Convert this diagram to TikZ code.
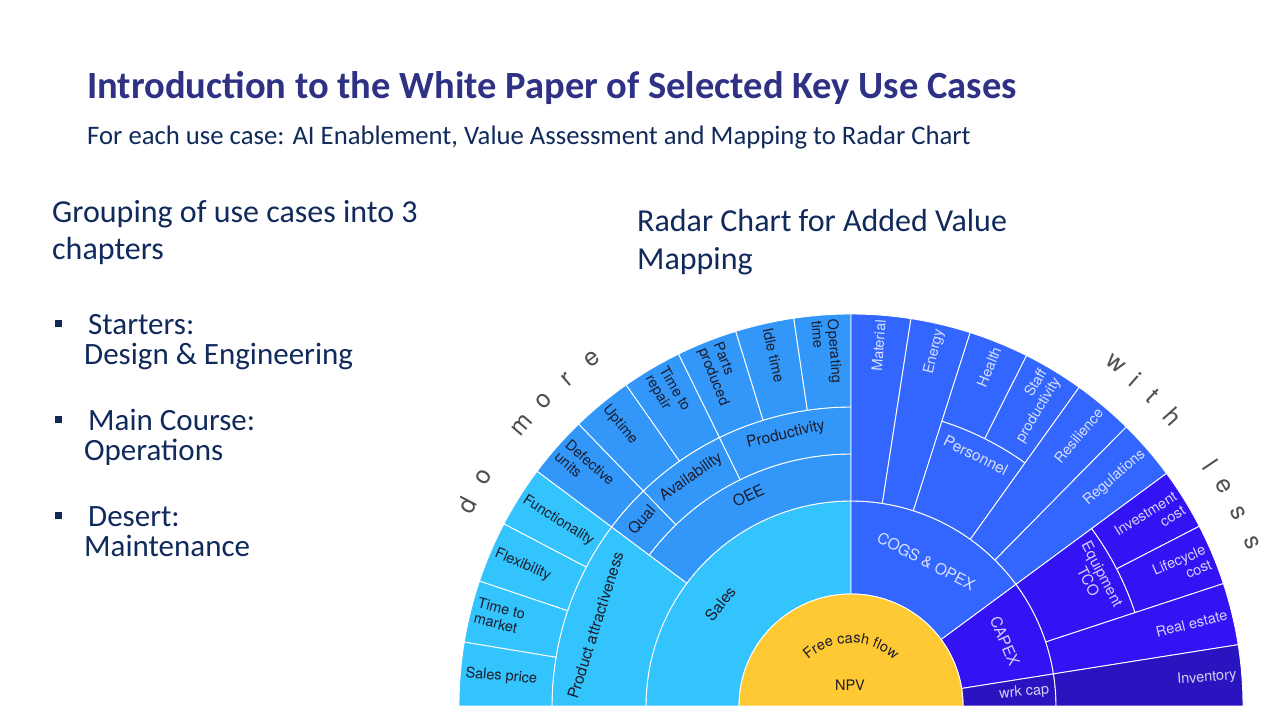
\documentclass[tikz,border=0pt]{standalone}
\usepackage{fontspec}
\setmainfont{Carlito}
\newfontfamily\heros{TeX Gyre Heros}
\usetikzlibrary{decorations.text}
\definecolor{titlecol}{HTML}{2E3184}
\definecolor{navy}{HTML}{112A5C}
\definecolor{cyanS}{HTML}{33C3FD}
\definecolor{oeeC}{HTML}{3397F9}
\definecolor{cogsC}{HTML}{3366FE}
\definecolor{capexC}{HTML}{3312F4}
\definecolor{wrkC}{HTML}{2A14C0}
\definecolor{npvC}{HTML}{FFC933}
\definecolor{darktxt}{HTML}{1C1C2A}
\definecolor{arcgray}{HTML}{505050}
\newcommand\sbseg[5]{\filldraw[fill=#1, draw=white, line width=0.9pt] (#2:#4) arc[start angle=#2, end angle=#3, radius=#4] -- (#3:#5) arc[start angle=#3, end angle=#2, radius=#5] -- cycle;}
\tikzset{
  leafL/.style={font=\heros\fontsize{14.5}{16}\selectfont, text=darktxt, inner sep=0pt, anchor=west, align=left},
  leafR/.style={font=\heros\fontsize{14.5}{16}\selectfont, text=white, text opacity=0.8, inner sep=0pt, anchor=east, align=right},
  ringD/.style={font=\heros\fontsize{15.5}{17}\selectfont, text=darktxt, inner sep=0pt, align=center},
  ringL/.style={font=\heros\fontsize{15.5}{17}\selectfont, text=white, text opacity=0.8, inner sep=0pt, align=center},
  arcletter/.style={font=\heros\fontsize{25}{25}\selectfont, text=arcgray, inner sep=0pt},
  slide/.style={inner sep=0pt, anchor=base west, text=navy}
}
\newcommand\lleaf[4]{\node[leafL, rotate=#1-180] (#4) at (#1:387) {#2\strut};}
\newcommand\rleaf[4]{\node[leafR, rotate=#1] (#4) at (#1:387) {#2};}
\begin{document}
\begin{tikzpicture}[x=1pt,y=1pt]
\useasboundingbox (0,0) rectangle (1280,720);
\fill[white] (0,0) rectangle (1280,720);
% title
\node[slide, text=titlecol, font=\fontsize{38.5}{44}\selectfont\bfseries] (title) at (87,621) {Introduction to the White Paper of Selected Key Use Cases};
\node[slide, font=\fontsize{26.7}{32}\selectfont] (subtitle) at (87,575) {For each use case: AI Enablement, Value Assessment and Mapping to Radar Chart};
% left block
\node[slide, font=\fontsize{32}{38}\selectfont] (g1) at (52,497) {Grouping of use cases into 3};
\node[slide, font=\fontsize{32}{38}\selectfont] (g2) at (52,460) {chapters};
\node[slide, font=\fontsize{31}{36}\selectfont] (s1) at (88,385) {Starters:};
\node[slide, font=\fontsize{31}{36}\selectfont] (s2) at (84,355) {Design \& Engineering};
\node[slide, font=\fontsize{31}{36}\selectfont] (m1) at (88,289) {Main Course:};
\node[slide, font=\fontsize{31}{36}\selectfont] (m2) at (84,259) {Operations};
\node[slide, font=\fontsize{31}{36}\selectfont] (d1) at (88,193) {Desert:};
\node[slide, font=\fontsize{31}{36}\selectfont] (d2) at (84,163) {Maintenance};
\fill[navy] (54.5,392.5) rectangle +(7,7);
\fill[navy] (54.5,296.5) rectangle +(7,7);
\fill[navy] (54.5,200.5) rectangle +(7,7);
% radar heading
\node[slide, font=\fontsize{32}{38}\selectfont] (r1) at (637,488) {Radar Chart for Added Value};
\node[slide, font=\fontsize{32}{38}\selectfont] (r2) at (637,450) {Mapping};
% sunburst
\begin{scope}[shift={(851,14)}]
\sbseg{cyanS}{90}{180}{112}{205}
\sbseg{cyanS}{143.2}{180}{205}{299}
\sbseg{cyanS}{170.6}{180}{299}{392}
\sbseg{cyanS}{161.4}{170.6}{299}{392}
\sbseg{cyanS}{152.3}{161.4}{299}{392}
\sbseg{cyanS}{143.2}{152.3}{299}{392}
\sbseg{oeeC}{90}{143.2}{205}{252}
\sbseg{oeeC}{134}{143.2}{252}{299}
\sbseg{oeeC}{116.1}{134}{252}{299}
\sbseg{oeeC}{90}{116.1}{252}{299}
\sbseg{oeeC}{134}{143.2}{299}{392}
\sbseg{oeeC}{125}{134}{299}{392}
\sbseg{oeeC}{116.1}{125}{299}{392}
\sbseg{oeeC}{107.1}{116.1}{299}{392}
\sbseg{oeeC}{98.4}{107.1}{299}{392}
\sbseg{oeeC}{90}{98.4}{299}{392}
\sbseg{cogsC}{36.4}{90}{112}{205}
\sbseg{cogsC}{81.2}{90}{205}{392}
\sbseg{cogsC}{72.3}{81.2}{205}{392}
\sbseg{cogsC}{54.4}{72.3}{205}{299}
\sbseg{cogsC}{63.4}{72.3}{299}{392}
\sbseg{cogsC}{54.4}{63.4}{299}{392}
\sbseg{cogsC}{45.4}{54.4}{205}{392}
\sbseg{cogsC}{36.4}{45.4}{205}{392}
\sbseg{capexC}{9}{36.4}{112}{205}
\sbseg{capexC}{18.2}{36.4}{205}{299}
\sbseg{capexC}{27.3}{36.4}{299}{392}
\sbseg{capexC}{18.2}{27.3}{299}{392}
\sbseg{capexC}{9}{18.2}{205}{392}
\sbseg{wrkC}{0}{9}{112}{205}
\sbseg{wrkC}{0}{9}{205}{392}
\filldraw[fill=npvC, draw=white, line width=0.9pt] (0:112) arc[start angle=0, end angle=180, radius=112] -- cycle;
% leaf labels left
\lleaf{175.3}{Sales price}{}{salesprice}
\lleaf{166}{Time to\\market}{}{ttm}
\lleaf{156.85}{Flexibility}{}{flex}
\lleaf{147.75}{Functionality}{}{func}
\lleaf{138.6}{Defective\\units}{}{defect}
\lleaf{129.5}{Uptime}{}{uptime}
\lleaf{120.55}{Time to\\repair}{}{ttr}
\lleaf{111.6}{Parts\\produced}{}{parts}
\lleaf{102.75}{Idle time}{}{idle}
\lleaf{94.2}{Operating\\time}{}{optime}
% leaf labels right
\rleaf{85.6}{Material}{}{material}
\rleaf{76.75}{Energy}{}{energy}
\rleaf{67.85}{Health}{}{health}
\rleaf{58.9}{Staff\\productivity}{}{staff}
\rleaf{49.9}{Resilience}{}{resil}
\rleaf{40.9}{Regulations}{}{regul}
\rleaf{31.85}{Investment\\cost}{}{invest}
\rleaf{22.75}{Lifecycle\\cost}{}{life}
\rleaf{13.6}{Real estate}{}{realest}
\rleaf{4.5}{Inventory}{}{invent}
% inner labels
\node[ringD, rotate=52] (sales) at (142:166) {Sales};
\node[ringD, rotate=72.5] (prodattr) at (162.5:268) {Product attractiveness};
\node[ringD, rotate=26] (oee) at (116:234) {OEE};
\node[ringD, rotate=48.5] (qual) at (138.4:280) {Qual};
\node[ringD, rotate=35] (avail) at (124.9:279) {Availability};
\node[ringD, rotate=13.5] (product) at (103.5:279) {Productivity};
\node[ringL, rotate=-27.5] (cogs) at (62.5:163) {COGS \& OPEX};
\node[ringL, rotate=-26.5] (personnel) at (63.5:280) {Personnel};
\node[ringL, rotate=-62.3, font=\heros\fontsize{15}{16}\selectfont] (equip) at (27.7:276) {Equipment\\TCO};
\node[ringL, rotate=-67.1] (capex) at (22.9:167) {CAPEX};
\node[leafR, rotate=4.5] (wrkcap) at (4.5:199) {wrk cap};
% center
\path[decorate, decoration={text along path, text={|\heros\fontsize{14.5}{16}\selectfont\color{darktxt}|Free cash flow}, text align=center}] (140:63) arc[start angle=140, end angle=40, radius=63];
\node[font=\heros\fontsize{14.5}{16}\selectfont, text=darktxt, inner sep=0pt] (npv) at (-1,21) {NPV};
% do more / with less
\foreach \a/\l [count=\i] in {152.4/d,148.1/o,139.5/m,135.2/o,131/r,126.7/e}
  \node[arcletter, rotate=\a-90] (dm\i) at (\a:433) {\l};
\foreach \a/\l [count=\i] in {52.3/w,48.9/i,45.8/t,42/h,33.9/l,30.5/e,26.5/s,22.1/s}
  \node[arcletter, rotate=\a-90] (wl\i) at (\a:433) {\l};
\end{scope}
\end{tikzpicture}
\end{document}
